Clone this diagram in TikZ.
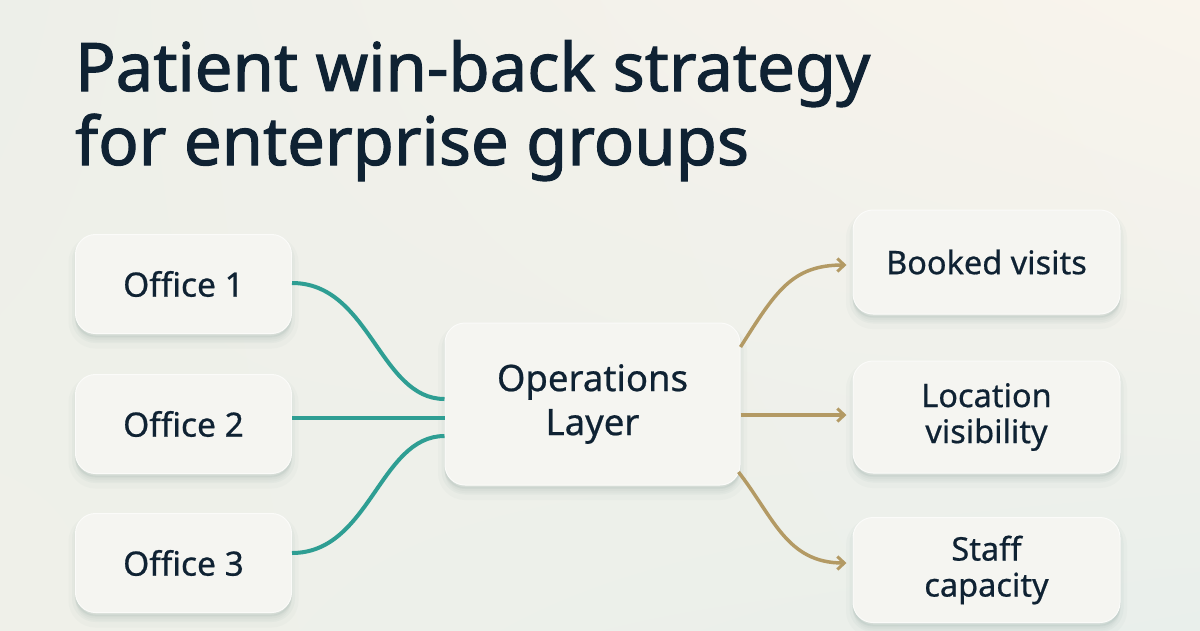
\documentclass[tikz,border=0pt]{standalone}
\usepackage{fontspec}
\setmainfont{Noto Sans}
\newfontfamily\titlefont{Noto Sans}[FakeBold=1.6]
\newfontfamily\boxfont{Noto Sans}[FakeBold=0.6]
\usetikzlibrary{arrows.meta,shadings}
\definecolor{ink}{HTML}{0F2233}
\definecolor{teal}{HTML}{2E9E93}
\definecolor{gold}{HTML}{B39A64}
\definecolor{boxfill}{HTML}{F5F5F1}
\definecolor{shadowc}{HTML}{8FA8A2}
\definecolor{bgA}{HTML}{EDEFE9}
\definecolor{bgB}{HTML}{F9F4EC}
\definecolor{bgC}{HTML}{EFF0E9}
\definecolor{bgD}{HTML}{E9EFEB}
\begin{document}
\begin{tikzpicture}[x=1pt,y=-1pt,
  box/.style={rounded corners=20pt, fill=boxfill, draw=white!60!boxfill, line width=1pt,
    preaction={draw=shadowc, line width=14pt, draw opacity=0.05, fill=shadowc, fill opacity=0.05, transform canvas={yshift=-8pt}},
    preaction={draw=shadowc, line width=7pt, draw opacity=0.07, fill=shadowc, fill opacity=0.07, transform canvas={yshift=-6pt}},
    preaction={draw=shadowc, line width=2pt, draw opacity=0.10, fill=shadowc, fill opacity=0.10, transform canvas={yshift=-3pt}},
    align=center, text=ink, inner sep=0pt},
  officebox/.style={box, minimum width=216pt, minimum height=99pt, font=\boxfont\fontsize{33.5}{40}\selectfont},
  opsbox/.style={box, minimum width=295pt, minimum height=162pt, font=\boxfont\fontsize{36.5}{44}\selectfont},
  outbox/.style={box, minimum width=267pt, minimum height=104pt, font=\boxfont\fontsize{32.5}{36}\selectfont},
  inlink/.style={draw=teal, line width=4pt},
  outlink/.style={draw=gold, line width=3.5pt, -{Straight Barb[length=7pt,width=13pt,line width=3pt]}},
  titletext/.style={anchor=base west, inner sep=0pt, text=ink, font=\titlefont\fontsize{67}{74}\selectfont}]
\useasboundingbox (0,0) rectangle (1200,630);
\shade[upper left=bgA, upper right=bgB, lower left=bgC, lower right=bgD] (0,0) rectangle (1200,630);

\node[titletext] (t1) at (75,91) {Patient win-back strategy};
\node[titletext] (t2) at (75,165) {for enterprise groups};

\node[officebox] (o1) at (183.5,284) {Office 1};
\node[officebox] (o2) at (183.5,424) {Office 2};
\node[officebox] (o3) at (183.5,563) {Office 3};
\node[opsbox] (ops) at (592.5,404) {Operations\\Layer};
\node[outbox] (b1) at (986.5,262) {Booked visits};
\node[outbox, minimum height=112pt] (b2) at (986.5,417) {Location\\visibility};
\node[outbox, minimum height=105pt] (b3) at (986.5,570) {Staff\\capacity};

\draw[inlink] ([yshift=1pt]o1.east) .. controls +(78,0) and +(-65,0) .. ([yshift=5pt]ops.west);
\draw[inlink] ([yshift=6pt]o2.east) -- ([yshift=-14pt]ops.west);
\draw[inlink] ([yshift=10pt]o3.east) .. controls +(78,0) and +(-65,0) .. ([yshift=-32pt]ops.west);

\draw[outlink] ([yshift=57pt]ops.east) .. controls +(35,-55) and +(-55,0) .. ([xshift=-6pt,yshift=-3pt]b1.west);
\draw[outlink] ([yshift=-11pt]ops.east) -- ([xshift=-6pt,yshift=2pt]b2.west);
\draw[outlink] ([xshift=-2pt,yshift=-68pt]ops.east) .. controls +(35,45) and +(-60,0) .. ([xshift=-6pt,yshift=7pt]b3.west);
\end{tikzpicture}
\end{document}
